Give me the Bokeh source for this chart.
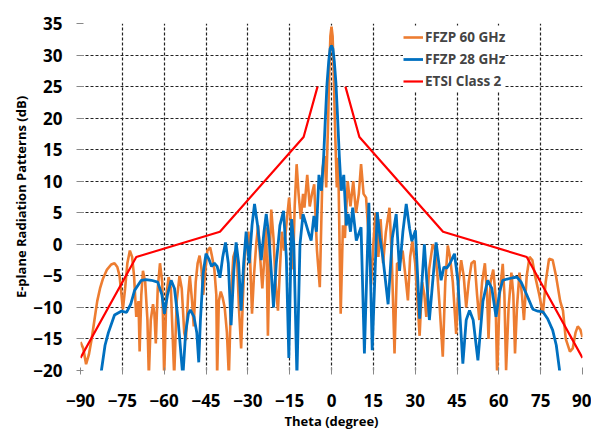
from bokeh.plotting import figure
from bokeh.models import FixedTicker, Legend, LegendItem, Range1d
from bokeh.embed import file_html
from bokeh.resources import INLINE

# ---- data ----
theta_60 = [-90, -89, -88, -87, -86, -85, -84, -83, -82, -80.5, -79, -77.8, -76.8, -76, -75.3, -74.8, -74, -73.2,
            -72.3, -71.5, -70.8, -70, -69.2, -68.8, -68.2, -67.6, -66.8, -66, -65.5, -64.8, -64, -63.5, -63, -62.3,
            -61.5, -60.7, -60, -59.2, -58.4, -57.6, -56.4, -55.5, -54.5, -53.7, -52.8, -52.2, -51.4, -50.8, -50,
            -49.4, -48.7, -48, -47.3, -46.6, -46, -45.2, -44.5, -43.5, -42.8, -42, -41.3, -41, -40.4, -39.7, -39,
            -38.3, -37.5, -36.8, -36, -35.2, -34.5, -33.8, -33.2, -32.4, -31.8, -31.2, -30.5, -29.8, -29.2, -28.5,
            -27.8, -27, -26.3, -25.6, -24.8, -24.2, -23.4, -22.8, -22.2, -21.6, -20.8, -20, -19.2, -18.5, -17.8,
            -17, -16.2, -15.2, -14.5, -13.8, -13.2, -12.5, -11.8, -11, -10.2, -9.7, -8.7, -7.8, -7, -6.2, -5.2,
            -4.2, -3.2, -2.5, -1.9, -1.3, -0.8, -0.4, 0, 0.4, 0.8, 1.3, 1.9, 2.4, 3.3, 4.1, 4.8, 5.8, 6.8, 7.8,
            8.8, 9.8, 10.6, 11.5, 12.4, 13.5, 14.2, 15, 15.8, 16.8, 17.6, 18.5, 19.5, 20.8, 21.6, 22.6, 23.5, 24.4,
            25.5, 26.5, 27.4, 28.2, 29, 30, 31.6, 32.5, 33.3, 34, 35, 36.3, 37, 38, 38.8, 39.9, 40.8, 41.7, 42.5,
            43.5, 44.7, 45.6, 46.5, 47.4, 48.3, 49.2, 50.2, 51.3, 52.2, 53, 54, 55, 55.8, 56.3, 57, 58, 58.8, 59.4,
            60.3, 61.4, 62, 62.6, 63.5, 64.5, 65.2, 65.8, 66.5, 67.4, 68.3, 69, 70, 71, 72, 73, 74.5, 75.8, 76.8,
            78, 79.3, 80.5, 82, 83, 84, 85.5, 86.5, 87.5, 88.3, 89.2, 90]
gain_60 = [-15.5, -16.5, -19, -17.5, -15, -12, -9, -7, -5.5, -4, -3.2, -3, -3.6, -5, -8, -10.3, -7, -3,
           -1, -2, -5, -11.5, -9, -17, -8, -4.2, -6, -12, -21, -12, -9.5, -11, -15.7, -7,
           -3, -6, -21, -8, -5.2, -7, -21, -9, -5, -7, -14, -15.2, -8, -5, -9,
           -13, -6, -3, -1.8, -4, -8, -4, -1, -0.5, -2, -4, -8, -21, -9, -7.5, -8.5,
           -10, -14, -21, -8, -2, -1, -3, -10, -16.5, -9, -2.5, 0.5, 2, -2, -11,
           -5, 0, 3, -2, -7, -3, 2.7, -14.5, -2, 5.5, 1, -6.5, -10.5, -4, 2,
           -1, 3, 7.4, 3, -4, 6, 12.7, 8, 4, 8, 5.8, 11, 6, 8, 9.5, -1,
           -6.8, 12, 14, 9, 18, 27, 33, 34.5, 33, 27, 18, 9, 13.7, -11, 3, 1, 10, 6, 10,
           5, 8, 12.7, 8, 7.4, 0, -6.3, 0, 5, -2, 4, -3, 2, 5.8, -2, -17.3, -3, -3.1,
           -1, -5, -8.9, -2, 0.5, -3, -14.5, -6, -8, -11.5, -4, 0, -0.5, -5, -10, -17.8, -6, -0.2, -2,
           -6, -14.2, -6, -2.5, -5, -10, -6, -3, -2.6, -8, -12, -6, -3, -8, -15, -6, -4, -8, -21,
           -8, -3.1, -8, -20, -10, -4.5, -8, -17.3, -10, -4.5, -8, -12, -5, -2, -2.5, -5, -8, -11, -6,
           -2.3, -2.5, -5, -9, -10.5, -15, -17, -16.5, -14, -13, -13.5, -14.7]

theta_28 = [-83.5, -82.5, -81.2, -80, -77.8, -75.4, -73.5, -72, -70.6, -68.2, -66.5, -64.6, -62.3, -60.8, -59.9,
            -58.8, -57.5, -56.3, -55, -53.3, -52.3, -51.3, -50.6, -49.3, -48.3, -47.6, -47, -46, -45, -44, -43,
            -42, -41, -40, -39, -38, -37, -36, -35, -34.2, -33.3, -32.4, -31.5, -30.6, -29.5, -28.5, -27.6, -26.5,
            -25.2, -24.2, -23.4, -22.4, -21.5, -20.8, -19.8, -18.5, -17.2, -16.2, -15.3, -14.3, -13.5, -12.4,
            -11.3, -10.2, -9, -8, -7.3, -6.3, -5.4, -4.5, -3.6, -2.8, -2.2, -1.6, -1, -0.5, 0, 0.5, 1, 1.6, 2.2,
            2.8, 3.5, 4.4, 5.3, 6, 6.8, 7.6, 8.9, 10.6, 11.8, 13.4, 14.6, 16.4, 17.4, 18.4, 20.3, 21.8, 23.2, 24.4,
            25.6, 26.8, 28, 28.8, 30.1, 31.6, 33.3, 35.1, 37.5, 39.3, 40.3, 41.3, 42.5, 44.1, 45.3, 47.1, 48.3,
            49.5, 50.8, 52.5, 54.3, 56, 57.5, 59, 60.3, 61.4, 63, 65, 66.5, 68, 70, 72.2, 74, 75.8, 77.5, 79.3,
            80.6, 81.7, 82.5]
gain_28 = [-24, -20, -16, -14, -11.2, -10.6, -10.8, -9.5, -7.3, -5.7, -5.6, -5.7, -6, -8, -11,
           -8, -5.7, -7, -12, -21, -14, -11, -10.4, -11.5, -14, -18.7, -12, -4.5, -1.5, -2.3, -3.5,
           -3, -3.5, -5.3, -2, 0.3, -3, -12.8, -4, 0.3, -3, -10.5, -3, 2, -3, 3, 6.4, 3,
           -2.5, 2, 4.8, 1, -5, -10, -3, 3, 5.3, -2, -18, 4, 0, -21,
           0, 4.8, 3, 1.5, 0.6, 4.5, 2, 11, 8.5, 14, 20, 25.5, 29, 31, 31.5, 31, 29, 25.5, 20,
           14, 8.5, 11, 3, 4.8, 2, 5.8, 0.6, 2.7, -17.3, 6.6, -16.8, 5.1, 1, -2, -9.5, 1, 4.8, -4.2,
           2, 6.4, 2.5, 0.5, 2.2, -11.8, 0, -12, 0.3, -5.7, -3.6, -3.8, -3, -1.5, -5.7, -18.9, -12,
           -10.5, -12, -18.4, -9, -5.7, -7, -11.5, -7.5, -5.7, -5.5, -5.3, -5.2, -6, -8, -10.3, -10.6, -10.7, -11.8, -13.6,
           -16, -19.7, -23]

theta_etsi = [-90, -70, -40, -10, -5, float("nan"), 5, 10, 40, 70, 90]
gain_etsi = [-18, -2, 2, 17, 25, float("nan"), 25, 17, 2, -2, -18]

x_ticks = [-90, -75, -60, -45, -30, -15, 0, 15, 30, 45, 60, 75, 90]
y_ticks = [-20, -15, -10, -5, 0, 5, 10, 15, 20, 25, 30, 35]

FONT = "Open Sans"

p = figure(width=591, height=432, output_backend="svg", toolbar_location=None,
           x_range=Range1d(-90, 90), y_range=Range1d(-20, 35),
           min_border_left=80, min_border_right=9, min_border_top=23, min_border_bottom=61)
p.outline_line_color = None
p.background_fill_color = "white"

r60 = p.line(theta_60, gain_60, line_color="#ED7D31", line_width=2.6)
r28 = p.line(theta_28, gain_28, line_color="#0070C0", line_width=2.8)
retsi = p.line(theta_etsi, gain_etsi, line_color="#FF0000", line_width=2.2)

for ax in (p.xaxis[0], p.yaxis[0]):
    ax.axis_line_color = None
    ax.major_tick_line_color = "#888888"
    ax.major_tick_in = 3
    ax.major_tick_out = 4
    ax.minor_tick_line_color = None
    ax.major_label_text_font = FONT
    ax.major_label_text_font_style = "bold"
    ax.major_label_text_font_size = "17px"
    ax.major_label_text_color = "black"
    ax.axis_label_text_font = FONT
    ax.axis_label_text_font_style = "bold"
    ax.axis_label_text_font_size = "13px"
    ax.axis_label_text_color = "black"

p.xaxis.ticker = FixedTicker(ticks=x_ticks)
p.yaxis.ticker = FixedTicker(ticks=y_ticks)
p.xaxis.axis_label = "Theta (degree)"
p.yaxis.axis_label = "E-plane Radiation Patterns (dB)"
p.xaxis.major_label_standoff = 19
p.yaxis.major_label_standoff = 14
p.xaxis.axis_label_standoff = 2
p.yaxis.axis_label_standoff = 0

for g in (p.xgrid[0], p.ygrid[0]):
    g.grid_line_color = "#222222"
    g.grid_line_dash = "3 2"
    g.grid_line_width = 1.2

legend = Legend(items=[LegendItem(label="FFZP 60 GHz", renderers=[r60]),
                       LegendItem(label="FFZP 28 GHz", renderers=[r28]),
                       LegendItem(label="ETSI Class 2", renderers=[retsi])],
                location=(323, 278), label_text_font=FONT, label_text_font_style="bold",
                label_text_font_size="13.5px", glyph_width=20, glyph_height=22, label_height=22,
                spacing=0, padding=4, margin=0, label_standoff=2,
                border_line_color=None, background_fill_color="white", background_fill_alpha=1.0)
p.add_layout(legend, "center")

open("out.html", "w").write(file_html(p, INLINE))
